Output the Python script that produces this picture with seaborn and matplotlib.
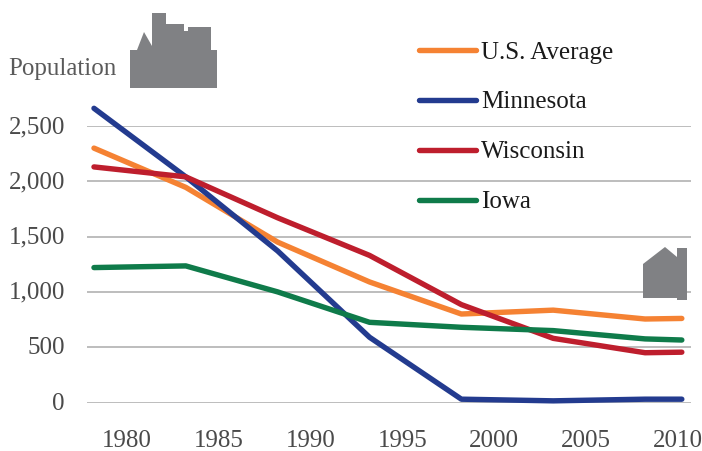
import matplotlib
matplotlib.use("Agg")
import matplotlib.pyplot as plt
from matplotlib.patches import Polygon
from matplotlib.transforms import ScaledTranslation
import pandas as pd
import seaborn as sns

years = [1978, 1983, 1988, 1993, 1998, 2003, 2008, 2010]
us_average = [2300, 1945, 1450, 1090, 800, 835, 755, 760]
minnesota = [2660, 2040, 1370, 590, 30, 15, 30, 30]
wisconsin = [2130, 2040, 1670, 1330, 885, 580, 450, 455]
iowa = [1220, 1235, 1000, 725, 680, 650, 575, 565]
series_names = ["U.S. Average", "Minnesota", "Wisconsin", "Iowa"]
series_colors = ["#F58233", "#233B8F", "#BE1E2D", "#0F7B4A"]
x_ticks = [1980, 1985, 1990, 1995, 2000, 2005, 2010]
y_ticks = [0, 500, 1000, 1500, 2000, 2500]
y_labels = ["0", "500", "1,000", "1,500", "2,000", "2,500"]

W, H = 702, 451
sns.set_theme(style="white")
plt.rcParams["font.family"] = ["Liberation Serif", "DejaVu Serif"]
fig = plt.figure(figsize=(W / 100, H / 100), dpi=100)
ax = fig.add_axes([87 / W, 1 - 402.5 / H, (691 - 87) / W, (402.5 - 126) / H])

df = pd.DataFrame({
    "year": years * 4,
    "population": us_average + minnesota + wisconsin + iowa,
    "series": [n for n in series_names for _ in years],
})
sns.lineplot(data=df, x="year", y="population", hue="series",
             hue_order=series_names, palette=series_colors, linewidth=3.9,
             ax=ax, clip_on=False, solid_capstyle="round", errorbar=None,
             zorder=3)

ax.set_xlim(1977.62, 2010.5)
ax.set_ylim(0, 2500)
ax.set_xlabel("")
ax.set_ylabel("")
ax.set_xticks(x_ticks)
ax.set_yticks(y_ticks, y_labels)
ax.yaxis.grid(True, color="#BDBDBD", linewidth=1.4, zorder=1)
ax.xaxis.grid(False)
sns.despine(ax=ax, left=True, bottom=True, top=True, right=True)
ax.tick_params(axis="both", length=0, labelsize=18, labelcolor="#4A4A4A")
ax.tick_params(axis="x", pad=20)
ax.tick_params(axis="y", pad=16)
shift = ScaledTranslation(-4 / 100, 0, fig.dpi_scale_trans)
for lab in ax.get_xticklabels():
    lab.set_transform(lab.get_transform() + shift)
yshift = ScaledTranslation(0, 1.5 / 100, fig.dpi_scale_trans)
for lab in ax.get_yticklabels():
    lab.set_transform(lab.get_transform() + yshift)

leg = ax.legend(loc="upper left", bbox_to_anchor=(419 / W, 1 - 41 / H),
                bbox_transform=fig.transFigure, frameon=False, fontsize=18,
                handlelength=2.27, handletextpad=0.22, labelspacing=1.1,
                borderpad=0, borderaxespad=0, title=None)
for t in leg.get_texts():
    t.set_color("#1A1A1A")
for h in leg.get_lines():
    h.set_linewidth(3.9)
    h.set_solid_capstyle("round")

fig.text(8 / W, 1 - 69 / H, "Population", fontsize=18, color="#5A5A5A",
         va="center", ha="left")

def px(points):
    return [(x / W, 1 - y / H) for x, y in points]

city = [(130, 88), (130, 50), (137, 50), (144, 32), (152, 46), (152, 13),
        (166, 13), (166, 24), (184, 24), (184, 31), (188, 31), (188, 27),
        (211, 27), (211, 50), (217, 50), (217, 88)]
house = [(643, 298), (643, 264), (665, 247), (677, 257), (677, 248), (687, 248),
         (687, 300), (677, 300), (677, 298)]
for shape in (city, house):
    fig.add_artist(Polygon(px(shape), closed=True, transform=fig.transFigure,
                           facecolor="#808184", edgecolor="none", zorder=5))

fig.savefig("out.png", dpi=100)
